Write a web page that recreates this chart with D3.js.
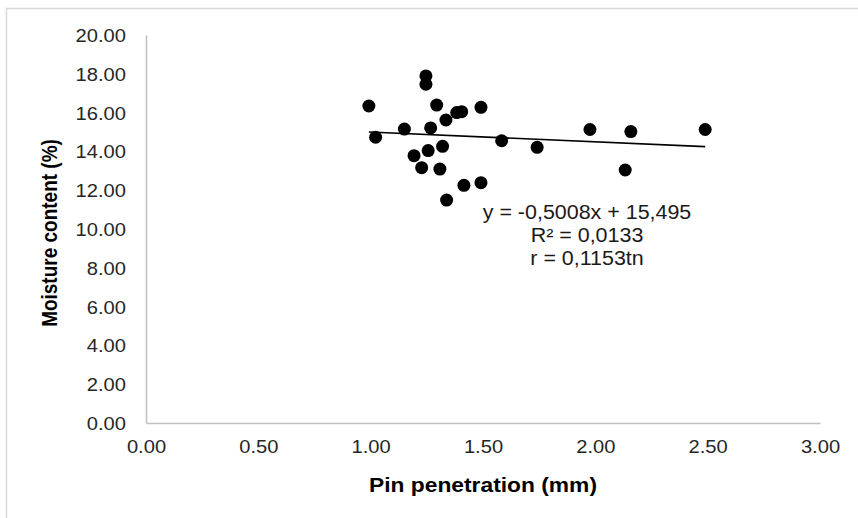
<!DOCTYPE html>
<html>
<head>
<meta charset="utf-8">
<script src="https://cdn.jsdelivr.net/npm/d3@7"></script>
<style>
  html, body { margin: 0; padding: 0; background: #fff; }
  svg { display: block; font-family: "Liberation Sans", Arial, sans-serif; }
</style>
</head>
<body>
<svg id="chart" width="858" height="518"></svg>
<script>
// Pin penetration (mm) measured for each sample
const pinPenetration = [
  0.992, 1.246, 1.246, 1.294, 1.491, 1.383, 1.405, 1.335, 1.150, 1.267,
  1.022, 1.583, 1.741, 1.320, 1.256, 1.193, 1.227, 1.308, 1.415, 1.491,
  1.338, 1.976, 2.158, 2.133, 2.489
];
// Moisture content (%) of the same samples
const moistureContent = [
  16.34, 17.89, 17.46, 16.39, 16.27, 16.00, 16.05, 15.62, 15.15, 15.21,
  14.73, 14.55, 14.21, 14.26, 14.04, 13.78, 13.16, 13.09, 12.25, 12.39,
  11.49, 15.13, 15.02, 13.04, 15.13
];
// Linear trend: y = slope * x + intercept
const trendSlope = -0.5008;
const trendIntercept = 15.495;
const trendLabels = ["y = -0,5008x + 15,495", "R\u00B2 = 0,0133", "r = 0,1153tn"];

const xTicks = [0, 0.5, 1, 1.5, 2, 2.5, 3];
const yTicks = [0, 2, 4, 6, 8, 10, 12, 14, 16, 18, 20];

// Horizontal widening applied to the lettering
const WIDEN = 1.12;

const svg = d3.select("#chart");

// Outer chart frame
svg.append("rect")
  .attr("x", 6.5).attr("y", 8.5)
  .attr("width", 900).attr("height", 600)
  .attr("fill", "none").attr("stroke", "#d9d9d9").attr("stroke-width", 1.5);

const x = d3.scaleLinear().domain([0, 3]).range([146, 820]);
const y = d3.scaleLinear().domain([0, 20]).range([423, 35]);

const tickColor = "#262626";

// Y axis
const yAxis = svg.append("g").attr("transform", `translate(${x(0)},0)`)
  .call(d3.axisLeft(y).tickValues(yTicks).tickSize(0)
    .tickFormat(d3.format(".2f")));
yAxis.select(".domain").attr("stroke", "#bfbfbf").attr("stroke-width", 1.5);
yAxis.selectAll("text")
  .attr("fill", tickColor).attr("font-size", 18).attr("font-family", null)
  .attr("x", -20 / WIDEN).attr("dy", "0.36em")
  .attr("transform", `scale(${WIDEN},1)`);

// X axis
const xAxis = svg.append("g").attr("transform", `translate(0,${y(0)})`)
  .call(d3.axisBottom(x).tickValues(xTicks).tickSize(0).tickPadding(17)
    .tickFormat(d3.format(".2f")));
xAxis.select(".domain").attr("stroke", "#bfbfbf").attr("stroke-width", 1.5);
xAxis.selectAll("text")
  .attr("fill", tickColor).attr("font-size", 18).attr("font-family", null)
  .attr("transform", `scale(${WIDEN},1)`);

// Axis titles
svg.append("text")
  .attr("transform", `translate(${(x(0) + x(3)) / 2},491.5) scale(1.14,1)`)
  .attr("text-anchor", "middle")
  .attr("font-size", 20).attr("font-weight", "bold").attr("fill", "#000")
  .text("Pin penetration (mm)");

svg.append("text")
  .attr("transform", `translate(56.5,${(y(0) + y(20)) / 2 + 4}) rotate(-90) scale(1,1.18)`)
  .attr("text-anchor", "middle")
  .attr("font-size", 19).attr("font-weight", "bold").attr("fill", "#000")
  .text("Moisture content (%)");

// Trend line across the observed range
const xExtent = d3.extent(pinPenetration);
svg.append("line")
  .attr("x1", x(xExtent[0])).attr("y1", y(trendSlope * xExtent[0] + trendIntercept))
  .attr("x2", x(xExtent[1])).attr("y2", y(trendSlope * xExtent[1] + trendIntercept))
  .attr("stroke", "#000").attr("stroke-width", 1.6);

// Sample points
svg.append("g").selectAll("circle")
  .data(pinPenetration.map((p, i) => [p, moistureContent[i]]))
  .join("circle")
  .attr("cx", d => x(d[0])).attr("cy", d => y(d[1]))
  .attr("r", 6.5).attr("fill", "#000");

// Regression annotation
svg.append("g").selectAll("text")
  .data(trendLabels)
  .join("text")
  .attr("transform", (d, i) => `translate(587,${219 + i * 22.8}) scale(1.1,1)`)
  .attr("text-anchor", "middle")
  .attr("font-size", 19.5).attr("fill", "#1a1a1a")
  .text(d => d);
</script>
</body>
</html>
